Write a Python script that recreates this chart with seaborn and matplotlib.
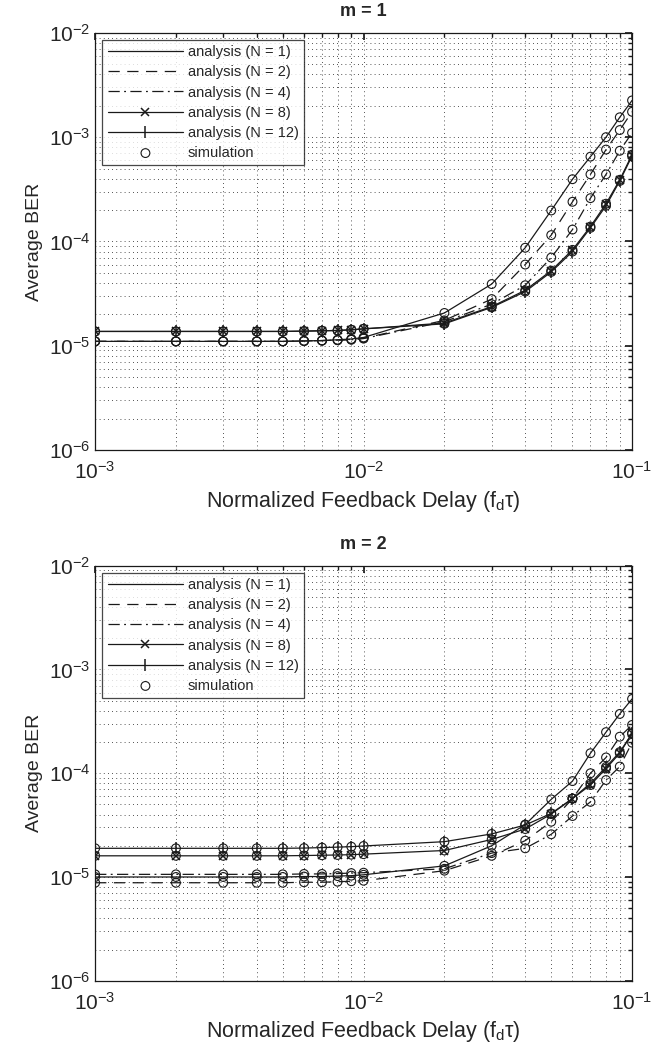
import numpy as np
import pandas as pd
import seaborn as sns
import matplotlib
matplotlib.use('Agg')
import matplotlib.pyplot as plt

# Abscisses : délai de retour normalisé
fd_tau = [0.001, 0.002, 0.003, 0.004, 0.005, 0.006, 0.007, 0.008, 0.009, 0.01,
          0.02, 0.03, 0.04, 0.05, 0.06, 0.07, 0.08, 0.09, 0.1]

# m = 1
m1_n1 = [1.10e-5, 1.10e-5, 1.10e-5, 1.10e-5, 1.10e-5, 1.11e-5, 1.12e-5, 1.14e-5, 1.16e-5, 1.20e-5,
         2.06e-5, 3.9e-5, 8.7e-5, 1.98e-4, 3.95e-4, 6.5e-4, 1.0e-3, 1.55e-3, 2.25e-3]
m1_n2 = [1.10e-5, 1.10e-5, 1.10e-5, 1.10e-5, 1.10e-5, 1.11e-5, 1.12e-5, 1.13e-5, 1.15e-5, 1.18e-5,
         1.75e-5, 2.8e-5, 6.0e-5, 1.15e-4, 2.4e-4, 4.4e-4, 7.6e-4, 1.17e-3, 1.75e-3]
m1_n4 = [1.10e-5, 1.10e-5, 1.10e-5, 1.10e-5, 1.10e-5, 1.11e-5, 1.12e-5, 1.13e-5, 1.14e-5, 1.17e-5,
         1.70e-5, 2.5e-5, 3.8e-5, 7.0e-5, 1.3e-4, 2.6e-4, 4.4e-4, 7.4e-4, 1.1e-3]
m1_n8 = [1.37e-5, 1.37e-5, 1.37e-5, 1.37e-5, 1.37e-5, 1.38e-5, 1.39e-5, 1.40e-5, 1.42e-5, 1.45e-5,
         1.65e-5, 2.37e-5, 3.4e-5, 5.25e-5, 8.3e-5, 1.39e-4, 2.3e-4, 3.9e-4, 6.8e-4]
m1_n12 = [1.37e-5, 1.37e-5, 1.37e-5, 1.37e-5, 1.37e-5, 1.38e-5, 1.39e-5, 1.40e-5, 1.42e-5, 1.45e-5,
          1.62e-5, 2.33e-5, 3.3e-5, 5.1e-5, 8.0e-5, 1.35e-4, 2.2e-4, 3.8e-4, 6.6e-4]

# m = 2
m2_n1 = [1.00e-5, 1.00e-5, 1.00e-5, 1.00e-5, 1.00e-5, 1.01e-5, 1.01e-5, 1.02e-5, 1.03e-5, 1.05e-5,
         1.28e-5, 2.0e-5, 3.2e-5, 5.6e-5, 8.4e-5, 1.56e-4, 2.49e-4, 3.73e-4, 5.2e-4]
m2_n2 = [0.88e-5, 0.88e-5, 0.88e-5, 0.88e-5, 0.88e-5, 0.89e-5, 0.89e-5, 0.90e-5, 0.91e-5, 0.92e-5,
         1.15e-5, 1.6e-5, 2.24e-5, 3.41e-5, 5.7e-5, 1.0e-4, 1.42e-4, 2.25e-4, 2.92e-4]
m2_n4 = [1.06e-5, 1.06e-5, 1.06e-5, 1.06e-5, 1.06e-5, 1.07e-5, 1.07e-5, 1.08e-5, 1.09e-5, 1.10e-5,
         1.20e-5, 1.7e-5, 1.89e-5, 2.58e-5, 3.87e-5, 5.3e-5, 8.6e-5, 1.16e-4, 1.97e-4]
m2_n8 = [1.60e-5, 1.60e-5, 1.60e-5, 1.60e-5, 1.60e-5, 1.61e-5, 1.62e-5, 1.63e-5, 1.64e-5, 1.66e-5,
         1.80e-5, 2.3e-5, 2.9e-5, 4.04e-5, 5.7e-5, 7.7e-5, 1.11e-4, 1.56e-4, 2.42e-4]
m2_n12 = [1.89e-5, 1.89e-5, 1.89e-5, 1.89e-5, 1.89e-5, 1.90e-5, 1.92e-5, 1.94e-5, 1.96e-5, 1.99e-5,
          2.19e-5, 2.6e-5, 3.17e-5, 4.1e-5, 5.7e-5, 8.0e-5, 1.15e-4, 1.6e-4, 2.42e-4]

labels_n = ["analysis (N = 1)", "analysis (N = 2)", "analysis (N = 4)",
            "analysis (N = 8)", "analysis (N = 12)"]
styles = [("-", None, 0), ((0, (9, 6)), None, 0), ((0, (9, 3.5, 1.5, 3.5)), None, 0),
          ("-", "x", 6), ("-", "|", 8)]

panels = [("m = 1", [m1_n1, m1_n2, m1_n4, m1_n8, m1_n12]),
          ("m = 2", [m2_n1, m2_n2, m2_n4, m2_n8, m2_n12])]

sns.set_theme(style="white")
plt.rcParams['font.family'] = ['Liberation Sans', 'DejaVu Sans']
plt.rcParams['mathtext.fontset'] = 'custom'
plt.rcParams['mathtext.rm'] = 'Liberation Sans'
plt.rcParams['mathtext.it'] = 'Liberation Sans:italic'

fig = plt.figure(figsize=(6.56, 10.44), dpi=100)
positions = [[0.145, 0.569, 0.8185, 0.3995], [0.145, 0.0606, 0.8185, 0.3975]]

for (titre, series), pos in zip(panels, positions):
    ax = fig.add_axes(pos)
    for vals, lab, (ls, mk, ms) in zip(series, labels_n, styles):
        sns.lineplot(x=fd_tau, y=vals, ax=ax, color="k", linestyle=ls, marker=mk,
                     markersize=ms, markeredgewidth=1.1, markeredgecolor="k",
                     linewidth=0.9, label=lab)
    # points de simulation
    df_sim = pd.DataFrame({"x": fd_tau * len(series), "y": np.concatenate(series)})
    sns.scatterplot(data=df_sim, x="x", y="y", ax=ax, marker="o", s=40,
                    facecolor="none", edgecolor="k", linewidth=0.8, label="simulation")

    ax.set_xscale("log")
    ax.set_yscale("log")
    ax.set_xlim(1e-3, 1e-1)
    ax.set_ylim(1e-6, 1e-2)
    ax.grid(True, which="both", color="k", linestyle=(0, (1, 4)), linewidth=0.6)
    ax.tick_params(which="both", direction="in", top=True, right=True, labelsize=15,
                   color="k", length=5)
    ax.tick_params(which="minor", length=3)
    ax.tick_params(axis="x", pad=8)
    for sp in ax.spines.values():
        sp.set_color("k")
        sp.set_linewidth(0.9)
    ax.set_title(titre, fontsize=13, fontweight="bold", pad=12)
    ax.set_xlabel(r"Normalized Feedback Delay (f$_\mathregular{d}$τ)", fontsize=15.5)
    ax.set_ylabel("Average BER", fontsize=14)
    leg = ax.legend(loc="upper left", fontsize=10.5, frameon=True, fancybox=False,
                    edgecolor="k", handlelength=5.2, borderpad=0.35, labelspacing=0.42,
                    handletextpad=0.3, borderaxespad=0.5)
    leg.get_frame().set_linewidth(0.9)

fig.savefig("out.png", dpi=100)
